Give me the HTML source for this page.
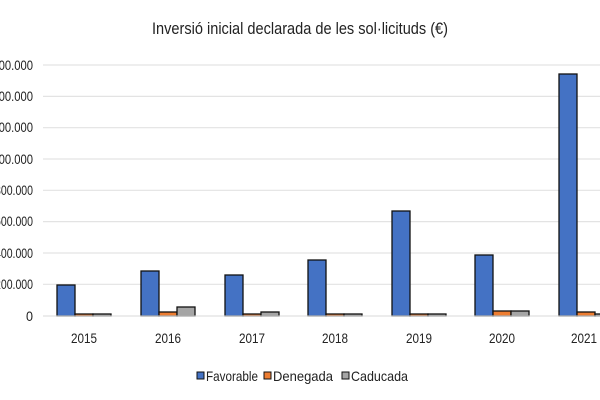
<!DOCTYPE html><html><head><meta charset="utf-8"><style>body{margin:0;background:#fff}svg{display:block;font-family:"Liberation Sans Narrow","Liberation Sans",sans-serif}</style></head><body>
<svg width="600" height="400" xmlns="http://www.w3.org/2000/svg">
<text x="152" y="34" font-size="17" fill="#222" textLength="296" lengthAdjust="spacingAndGlyphs">Inversió  inicial declarada  de les sol·licituds (€)</text>
<g stroke="#e3e3e3" stroke-width="1.2">
<line x1="43" x2="600" y1="65" y2="65"/><line x1="43" x2="600" y1="96.4" y2="96.4"/><line x1="43" x2="600" y1="127.7" y2="127.7"/><line x1="43" x2="600" y1="159" y2="159"/><line x1="43" x2="600" y1="190.3" y2="190.3"/><line x1="43" x2="600" y1="221.6" y2="221.6"/><line x1="43" x2="600" y1="253" y2="253"/><line x1="43" x2="600" y1="284.3" y2="284.3"/>
</g>
<g font-size="14" fill="#222" lengthAdjust="spacingAndGlyphs">
<text x="-17" y="70" textLength="50" lengthAdjust="spacingAndGlyphs">1.600.000</text><text x="-17" y="101" textLength="50" lengthAdjust="spacingAndGlyphs">1.400.000</text><text x="-17" y="132" textLength="50" lengthAdjust="spacingAndGlyphs">1.200.000</text><text x="-17" y="164" textLength="50" lengthAdjust="spacingAndGlyphs">1.000.000</text><text x="-5" y="195" textLength="38" lengthAdjust="spacingAndGlyphs">800.000</text><text x="-5" y="226" textLength="38" lengthAdjust="spacingAndGlyphs">600.000</text><text x="-5" y="258" textLength="38" lengthAdjust="spacingAndGlyphs">400.000</text><text x="-5" y="289" textLength="38" lengthAdjust="spacingAndGlyphs">200.000</text><text x="26" y="321" textLength="7" lengthAdjust="spacingAndGlyphs">0</text>
</g>
<g stroke="#111" stroke-width="1.3">
<rect x="57" y="285" width="18" height="31" fill="#4472c4"/><rect x="75" y="314" width="18" height="2" fill="#ed7d31"/><rect x="93" y="314" width="18" height="2" fill="#a5a5a5"/>
<rect x="141" y="271" width="18" height="45" fill="#4472c4"/><rect x="159" y="312" width="18" height="4" fill="#ed7d31"/><rect x="177" y="307" width="18" height="9" fill="#a5a5a5"/>
<rect x="225" y="275" width="18" height="41" fill="#4472c4"/><rect x="243" y="314" width="18" height="2" fill="#ed7d31"/><rect x="261" y="312" width="18" height="4" fill="#a5a5a5"/>
<rect x="308" y="260" width="18" height="56" fill="#4472c4"/><rect x="326" y="314" width="18" height="2" fill="#ed7d31"/><rect x="344" y="314" width="18" height="2" fill="#a5a5a5"/>
<rect x="392" y="211" width="18" height="105" fill="#4472c4"/><rect x="410" y="314" width="18" height="2" fill="#ed7d31"/><rect x="428" y="314" width="18" height="2" fill="#a5a5a5"/>
<rect x="475" y="255" width="18" height="61" fill="#4472c4"/><rect x="493" y="311" width="18" height="5" fill="#ed7d31"/><rect x="511" y="311" width="18" height="5" fill="#a5a5a5"/>
<rect x="559" y="74" width="18" height="242" fill="#4472c4"/><rect x="577" y="312" width="18" height="4" fill="#ed7d31"/><rect x="595" y="314" width="18" height="2" fill="#a5a5a5"/>
</g>
<line x1="43" x2="600" y1="316" y2="316" stroke="#d9d9d9"/>
<g font-size="14" fill="#222">
<text x="71" y="343" textLength="26" lengthAdjust="spacingAndGlyphs">2015</text><text x="155" y="343" textLength="26" lengthAdjust="spacingAndGlyphs">2016</text><text x="239" y="343" textLength="26" lengthAdjust="spacingAndGlyphs">2017</text><text x="322" y="343" textLength="26" lengthAdjust="spacingAndGlyphs">2018</text><text x="406" y="343" textLength="26" lengthAdjust="spacingAndGlyphs">2019</text><text x="489" y="343" textLength="26" lengthAdjust="spacingAndGlyphs">2020</text><text x="571" y="343" textLength="26" lengthAdjust="spacingAndGlyphs">2021</text>
</g>
<g font-size="14" fill="#222" stroke-width="1">
<rect x="197" y="372" width="7" height="7" fill="#4472c4" stroke="#111"/><text x="206" y="381" textLength="52" lengthAdjust="spacingAndGlyphs">Favorable</text>
<rect x="264" y="372" width="7" height="7" fill="#ed7d31" stroke="#111"/><text x="273" y="381" textLength="60" lengthAdjust="spacingAndGlyphs">Denegada</text>
<rect x="342" y="372" width="7" height="7" fill="#a5a5a5" stroke="#111"/><text x="351" y="381" textLength="57" lengthAdjust="spacingAndGlyphs">Caducada</text>
</g>
</svg></body></html>
